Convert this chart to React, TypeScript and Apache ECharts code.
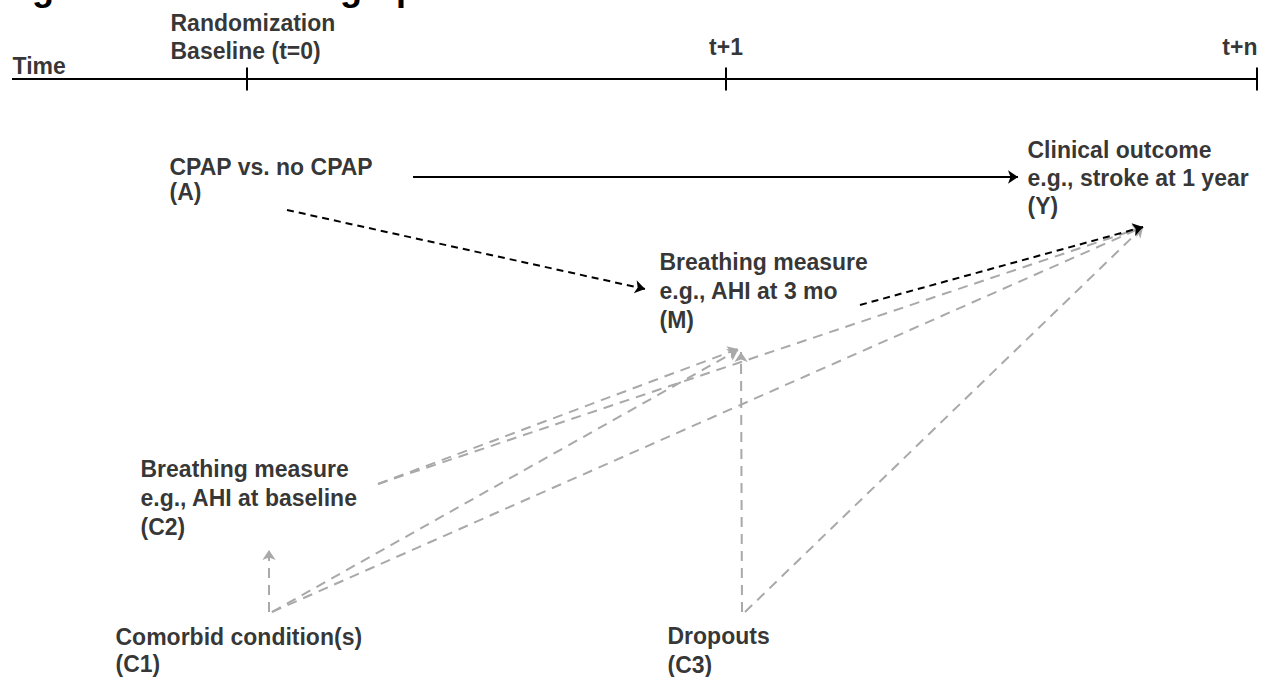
import React, { useEffect, useRef } from "react";
import * as echarts from "echarts";

// ---------- data ----------
const TITLE = "Figure 1: Mediation graph";
const timeLabels = ["Time", "Randomization\nBaseline (t=0)", "t+1", "t+n"];
const timePoints = ["t=0", "t+1", "t+n"];
const nodeKeys = ["A", "Y", "M", "C2", "C1", "C3"];
const nodeLabels = [
  "CPAP vs. no CPAP\n(A)",
  "Clinical outcome\ne.g., stroke at 1 year\n(Y)",
  "Breathing measure\ne.g., AHI at 3 mo\n(M)",
  "Breathing measure\ne.g., AHI at baseline\n(C2)",
  "Comorbid condition(s)\n(C1)",
  "Dropouts\n(C3)",
];
const edgeFrom = ["A", "A", "M", "C1", "C1", "C1", "C2", "C2", "C3", "C3"];
const edgeTo = ["Y", "M", "Y", "C2", "M", "Y", "M", "Y", "M", "Y"];
const edgeKind = ["direct", "indirect", "indirect", "conf", "conf", "conf", "conf", "conf", "conf", "conf"];

// ---------- layout (page pixel space, mapped through hidden axes) ----------
const timeLabelX = [12, 170, 726, 1258];
const timeLabelY = [66, 37, 47, 47];
const timeLabelAlign = ["left", "left", "center", "right"];
const axisStartX = 12;
const axisY = 79;
const tickX = [247, 726, 1257];
const tickHalf = 11.5;
const nodeX = [169, 1027, 659, 140, 115, 667];
const nodeY = [179, 178, 291, 498, 650, 650];
const nodeLineHeight = [25, 28, 29, 29, 27, 29];
const edgeStart = [
  [413, 177], [287, 210], [860, 305], [269, 612], [272, 612],
  [272, 612], [378, 484], [378, 484], [742, 612], [745, 612],
];
const edgeEnd = [
  [1018, 177], [645, 289], [1143, 227], [269, 550], [738, 350],
  [1143, 227], [738, 349], [1143, 227], [741, 352], [1143, 227],
];

const FONT = "'Liberation Sans', Arial, Helvetica, sans-serif";
const GRAY = "#a9a9a9";

function buildOption() {
  const kindStyle: Record<string, any> = {
    direct: { color: "#000", width: 2, type: "solid" },
    indirect: { color: "#000", width: 2, type: [7, 5] },
    conf: { color: GRAY, width: 2, type: [10, 7] },
  };
  const edgeData = edgeFrom.map((f, i) => ({
    name: f + "→" + edgeTo[i],
    coords: [edgeStart[i], edgeEnd[i]],
    lineStyle: { ...kindStyle[edgeKind[i]], opacity: 1 },
  }));
  const arrowColor = edgeFrom.map((_, i) => kindStyle[edgeKind[i]].color);

  const axisData = [
    { coords: [[axisStartX, axisY], [tickX[tickX.length - 1], axisY]] },
    ...tickX.map((x) => ({ coords: [[x, axisY - tickHalf], [x, axisY + tickHalf]] })),
  ];

  const nodeData = nodeKeys.map((k, i) => ({
    name: nodeLabels[i],
    value: [nodeX[i], nodeY[i]],
    label: { lineHeight: nodeLineHeight[i] },
  }));
  const timeData = timeLabels.map((t, i) => ({
    name: t,
    value: [timeLabelX[i], timeLabelY[i]],
    label: {
      align: timeLabelAlign[i],
      position: timeLabelAlign[i] === "left" ? "right" : timeLabelAlign[i] === "right" ? "left" : "inside",
      lineHeight: 28,
    },
  }));

  const labelBase = {
    show: true,
    formatter: "{b}",
    color: "#000",
    fontFamily: FONT,
    fontSize: 23,
    fontWeight: "bold",
    distance: 0,
    verticalAlign: "middle",
  };

  return {
    animation: false,
    backgroundColor: "#fff",
    title: {
      text: TITLE,
      left: 0,
      top: -31,
      padding: 0,
      textStyle: { fontSize: 36, fontWeight: "bold", color: "#000", fontFamily: FONT },
    },
    grid: { left: 0, right: 0, top: 0, bottom: 0, containLabel: false },
    xAxis: { type: "value", min: 0, max: 1270, show: false },
    yAxis: { type: "value", min: 0, max: 677, inverse: true, show: false },
    series: [
      {
        type: "lines",
        name: "timeline " + timePoints.join(" "),
        coordinateSystem: "cartesian2d",
        polyline: false,
        symbol: "none",
        lineStyle: { color: "#000", width: 2, opacity: 1 },
        data: axisData,
        silent: true,
        z: 2,
      },
      ...edgeData.map((d, i) => ({
        type: "lines",
        coordinateSystem: "cartesian2d",
        symbol: ["none", "arrow"],
        symbolSize: [0, 10],
        itemStyle: { color: arrowColor[i] },
        lineStyle: d.lineStyle,
        data: [d],
        silent: true,
        z: edgeKind[i] === "conf" ? 3 : 4,
      })),
      {
        type: "scatter",
        clip: false,
        symbolSize: 1,
        itemStyle: { color: "transparent" },
        label: { ...labelBase, position: "right", align: "left" },
        data: nodeData,
        silent: true,
        z: 5,
      },
      {
        type: "scatter",
        clip: false,
        symbolSize: 1,
        itemStyle: { color: "transparent" },
        label: { ...labelBase },
        data: timeData,
        silent: true,
        z: 5,
      },
    ],
  };
}

export default function App() {
  const ref = useRef<HTMLDivElement>(null);
  useEffect(() => {
    const chart = echarts.init(ref.current as HTMLDivElement, null, { renderer: "svg" });
    chart.setOption(buildOption() as any);
    return () => chart.dispose();
  }, []);
  return (
    <div
      ref={ref}
      style={{ position: "fixed", left: 0, top: 0, width: 1270, height: 677, background: "#fff" }}
    />
  );
}
